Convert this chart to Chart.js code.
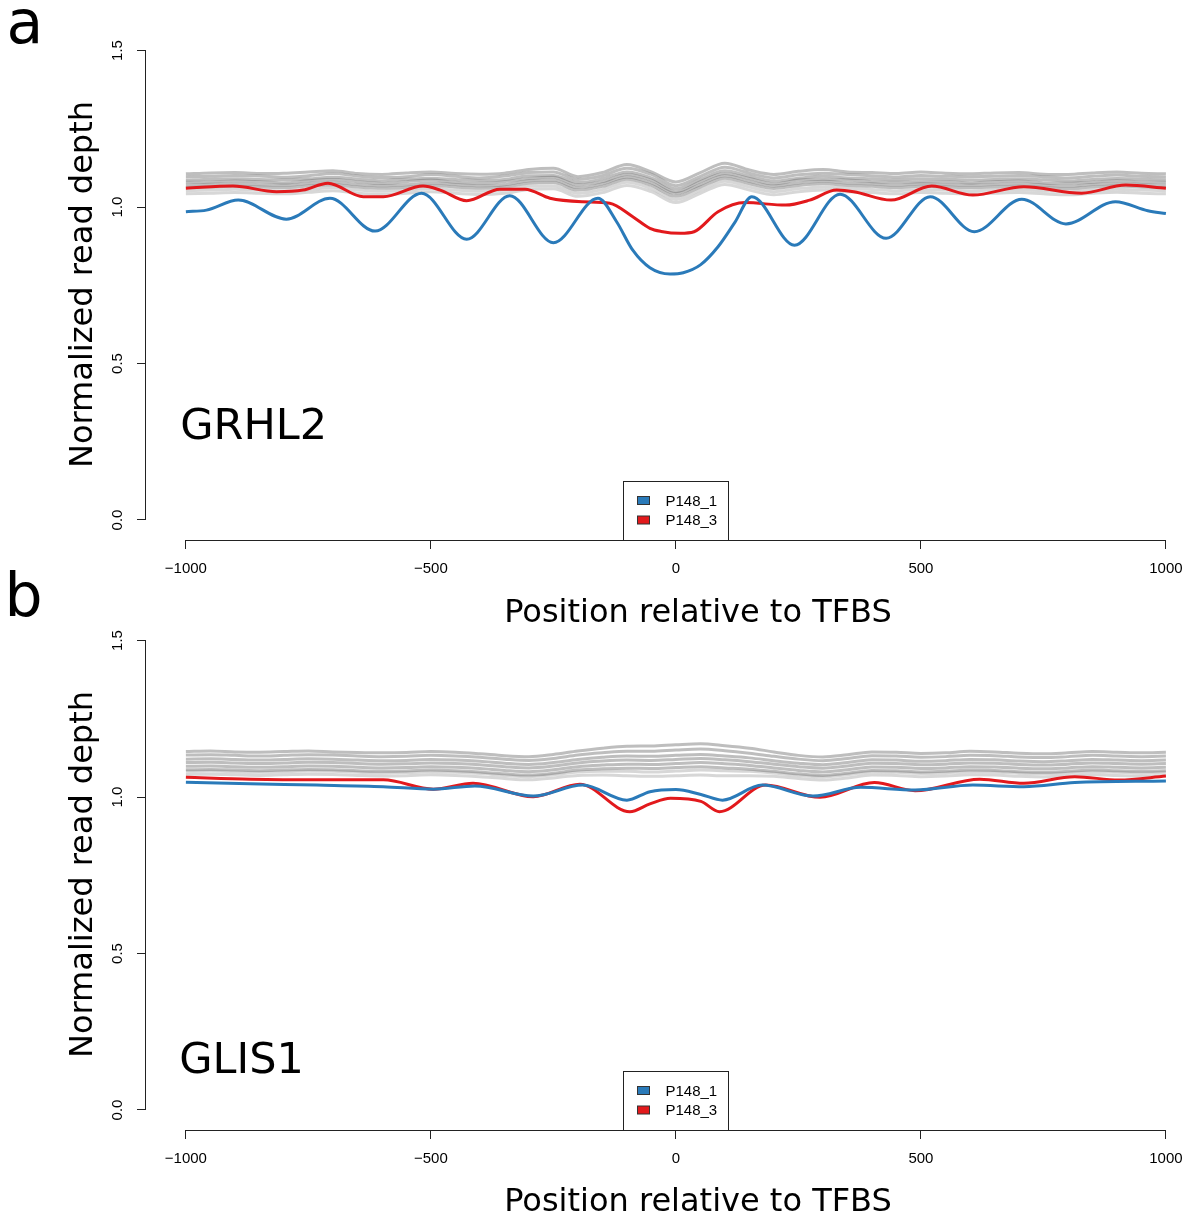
<!DOCTYPE html>
<html>
<head>
<meta charset="utf-8">
<script src="https://cdn.jsdelivr.net/npm/chart.js@4.4.0/dist/chart.umd.min.js"></script>
<style>
  html, body { margin: 0; padding: 0; background: #fff; overflow: hidden; width: 1190px; height: 1222px; }
  canvas { position: absolute; left: 0; }
  #panelA { top: 0; width: 1250px; height: 640px; }
  #panelB { top: 560px; width: 1250px; height: 662px; }
</style>
</head>
<body>
<canvas id="panelA" width="1250" height="640"></canvas>
<canvas id="panelB" width="1250" height="662"></canvas>
<script>
// axis ticks
const xTicks = [-1000, -500, 0, 500, 1000];
const xTickLabels = ['\u22121000', '\u2212500', '0', '500', '1000'];
const yTicks = [0, 0.5, 1, 1.5];
const yTickLabels = ['0.0', '0.5', '1.0', '1.5'];
const seriesNames = ['P148_1', 'P148_3'];

// ---- panel a (GRHL2) ----
const blueAX = [-1000, -958, -893, -795, -706, -614, -519, -427, -339, -250, -159, -121, -88, -53, -12, 15, 50, 86, 120, 155, 242, 335, 429, 519, 609, 706, 796, 897, 963, 1000];
const blueAY = [0.985, 0.990, 1.022, 0.961, 1.028, 0.923, 1.044, 0.897, 1.036, 0.886, 1.028, 0.953, 0.862, 0.806, 0.786, 0.790, 0.815, 0.873, 0.950, 1.033, 0.878, 1.041, 0.900, 1.033, 0.921, 1.025, 0.946, 1.017, 0.988, 0.979];

const redAX = [-1000, -904, -815, -761, -710, -638, -597, -516, -481, -427, -359, -308, -257, -190, -135, -88, -53, -30, 9, 37, 86, 141, 224, 273, 328, 363, 439, 522, 606, 710, 828, 918, 1000];
const redAY = [1.060, 1.067, 1.049, 1.054, 1.076, 1.033, 1.033, 1.067, 1.054, 1.020, 1.057, 1.057, 1.028, 1.017, 1.012, 0.969, 0.932, 0.922, 0.916, 0.921, 0.985, 1.014, 1.006, 1.022, 1.054, 1.049, 1.022, 1.067, 1.038, 1.065, 1.044, 1.070, 1.060];

// background samples, every 50 bp
const grayX = [-1000, -950, -900, -850, -800, -750, -700, -650, -600, -550,
  -500, -450, -400, -350, -300, -250, -200, -150, -100, -50,
  0, 50, 100, 150, 200, 250, 300, 350, 400, 450,
  500, 550, 600, 650, 700, 750, 800, 850, 900, 950, 1000];

const grayA1 = [1.106,1.109,1.110,1.107,1.108,1.112,1.116,1.107,1.104,1.109,
  1.112,1.107,1.105,1.108,1.120,1.124,1.097,1.110,1.136,1.112,
  1.080,1.110,1.140,1.118,1.104,1.114,1.120,1.112,1.110,1.107,
  1.112,1.108,1.106,1.109,1.110,1.105,1.104,1.109,1.112,1.108,1.106];
const grayA2 = [1.097,1.098,1.101,1.099,1.095,1.100,1.107,1.099,1.094,1.097,
  1.104,1.098,1.093,1.099,1.110,1.112,1.088,1.100,1.124,1.104,
  1.068,1.098,1.127,1.108,1.093,1.103,1.108,1.104,1.100,1.096,
  1.101,1.098,1.097,1.098,1.101,1.097,1.093,1.098,1.102,1.098,1.096];
const grayA3 = [1.086,1.089,1.090,1.088,1.087,1.090,1.095,1.089,1.084,1.089,
  1.092,1.088,1.085,1.088,1.100,1.101,1.078,1.090,1.112,1.093,
  1.058,1.088,1.116,1.098,1.083,1.092,1.098,1.093,1.090,1.087,
  1.090,1.089,1.086,1.088,1.090,1.087,1.083,1.088,1.091,1.089,1.086];
const grayA4 = [1.079,1.080,1.083,1.081,1.077,1.084,1.088,1.081,1.075,1.081,
  1.086,1.079,1.076,1.081,1.091,1.095,1.071,1.081,1.104,1.086,
  1.049,1.081,1.107,1.091,1.074,1.086,1.089,1.086,1.081,1.079,
  1.081,1.081,1.077,1.081,1.083,1.077,1.076,1.079,1.084,1.080,1.079];
const grayA5 = [1.070,1.073,1.074,1.071,1.070,1.075,1.079,1.072,1.068,1.071,
  1.077,1.072,1.068,1.071,1.084,1.086,1.062,1.074,1.096,1.077,
  1.043,1.072,1.100,1.082,1.067,1.077,1.082,1.077,1.074,1.070,
  1.074,1.072,1.070,1.072,1.074,1.070,1.067,1.072,1.075,1.072,1.070];
const grayA6 = [1.062,1.064,1.066,1.064,1.062,1.067,1.071,1.064,1.060,1.063,
  1.069,1.064,1.060,1.064,1.076,1.078,1.054,1.066,1.089,1.069,
  1.034,1.064,1.092,1.074,1.059,1.069,1.074,1.069,1.066,1.062,
  1.066,1.064,1.062,1.064,1.066,1.062,1.059,1.064,1.067,1.064,1.062];
const grayA7 = [1.052,1.054,1.057,1.054,1.052,1.056,1.062,1.054,1.050,1.054,
  1.059,1.054,1.050,1.054,1.066,1.068,1.044,1.056,1.079,1.059,
  1.024,1.054,1.082,1.064,1.049,1.059,1.064,1.059,1.056,1.052,
  1.056,1.054,1.052,1.054,1.056,1.052,1.049,1.054,1.057,1.054,1.052];
const grayA8 = [1.042,1.044,1.046,1.044,1.042,1.047,1.052,1.044,1.040,1.044,
  1.049,1.044,1.040,1.044,1.056,1.058,1.034,1.046,1.069,1.049,
  1.014,1.044,1.072,1.054,1.039,1.049,1.054,1.049,1.046,1.042,
  1.046,1.044,1.042,1.044,1.046,1.042,1.039,1.044,1.047,1.044,1.042];

// ---- panel b (GLIS1) ----
const blueBX = [-1000, -869, -733, -597, -495, -410, -291, -190, -100, -53, 0, 51, 95, 176, 280, 377, 488, 606, 710, 814, 1000];
const blueBY = [1.047, 1.042, 1.038, 1.033, 1.025, 1.035, 1.003, 1.038, 0.990, 1.017, 1.024, 1.008, 0.990, 1.038, 1.003, 1.031, 1.022, 1.038, 1.033, 1.046, 1.051];

const redBX = [-1000, -869, -733, -597, -495, -414, -291, -196, -94, -53, -11, 51, 89, 183, 294, 405, 488, 620, 710, 814, 904, 1000];
const redBY = [1.063, 1.057, 1.055, 1.055, 1.025, 1.044, 1.001, 1.041, 0.953, 0.978, 0.996, 0.986, 0.953, 1.038, 0.999, 1.046, 1.020, 1.057, 1.044, 1.065, 1.054, 1.067];

const grayB1 = [1.145,1.147,1.144,1.143,1.145,1.147,1.144,1.142,1.141,1.142,
  1.145,1.143,1.138,1.132,1.129,1.136,1.147,1.156,1.162,1.163,
  1.167,1.170,1.164,1.156,1.144,1.133,1.128,1.135,1.144,1.143,
  1.139,1.141,1.146,1.144,1.140,1.138,1.141,1.145,1.143,1.141,1.143];
const grayB2 = [1.134,1.135,1.133,1.131,1.133,1.135,1.134,1.131,1.129,1.130,
  1.133,1.131,1.127,1.121,1.117,1.123,1.134,1.141,1.146,1.146,
  1.150,1.153,1.148,1.140,1.130,1.121,1.116,1.123,1.132,1.131,
  1.127,1.129,1.133,1.132,1.128,1.126,1.129,1.133,1.131,1.129,1.131];
const grayB3 = [1.121,1.122,1.120,1.118,1.120,1.122,1.121,1.118,1.116,1.117,
  1.120,1.118,1.114,1.108,1.104,1.110,1.120,1.127,1.131,1.130,
  1.133,1.136,1.131,1.125,1.116,1.108,1.103,1.110,1.119,1.118,
  1.114,1.116,1.120,1.119,1.115,1.113,1.116,1.120,1.118,1.116,1.118];
const grayB4 = [1.110,1.111,1.109,1.107,1.109,1.111,1.110,1.107,1.105,1.106,
  1.109,1.107,1.103,1.097,1.093,1.099,1.109,1.115,1.118,1.117,
  1.120,1.123,1.119,1.113,1.105,1.097,1.092,1.099,1.108,1.107,
  1.103,1.105,1.109,1.108,1.104,1.102,1.105,1.109,1.107,1.105,1.107];
const grayB5 = [1.098,1.099,1.097,1.095,1.097,1.099,1.098,1.095,1.093,1.094,
  1.097,1.095,1.091,1.085,1.081,1.087,1.097,1.102,1.105,1.104,
  1.107,1.110,1.106,1.101,1.093,1.085,1.080,1.087,1.096,1.095,
  1.091,1.093,1.097,1.096,1.092,1.090,1.093,1.097,1.095,1.093,1.095];
const grayB6 = [1.087,1.088,1.086,1.084,1.086,1.088,1.087,1.084,1.082,1.083,
  1.086,1.084,1.080,1.074,1.070,1.076,1.086,1.090,1.092,1.091,
  1.094,1.097,1.093,1.089,1.082,1.074,1.069,1.076,1.085,1.084,
  1.080,1.082,1.086,1.085,1.081,1.079,1.082,1.086,1.084,1.082,1.084];
const grayB7 = [1.082,1.083,1.081,1.079,1.081,1.083,1.082,1.079,1.077,1.078,
  1.081,1.079,1.075,1.069,1.065,1.071,1.080,1.082,1.082,1.080,
  1.083,1.086,1.084,1.082,1.077,1.069,1.064,1.071,1.080,1.079,
  1.075,1.077,1.081,1.080,1.076,1.074,1.077,1.081,1.079,1.077,1.079];
const grayB8 = [1.072,1.073,1.071,1.069,1.071,1.073,1.072,1.069,1.067,1.068,
  1.071,1.069,1.065,1.059,1.055,1.061,1.069,1.070,1.068,1.066,
  1.068,1.070,1.068,1.068,1.066,1.059,1.054,1.061,1.070,1.069,
  1.065,1.067,1.071,1.070,1.066,1.064,1.067,1.071,1.069,1.067,1.069];

const BLUE = '#2a7ab9';
const RED = '#e2191c';
const sans = '"DejaVu Sans", sans-serif';
const arial = '"Liberation Sans", Arial, sans-serif';

const pts = (xs, ys) => xs.map((x, i) => ({ x, y: ys[i] }));

// R-like axes, labels and legend drawn on top of the chart
const rStyle = {
  id: 'rStyle',
  afterDraw(chart, args, o) {
    const { ctx, chartArea: ca, scales: { x, y } } = chart;
    ctx.save();
    ctx.strokeStyle = '#222';
    ctx.lineWidth = 1;

    // axis lines only span the tick range
    const xb = Math.round(ca.bottom) + 0.5;
    ctx.beginPath();
    ctx.moveTo(x.getPixelForValue(xTicks[0]), xb);
    ctx.lineTo(x.getPixelForValue(xTicks[xTicks.length - 1]), xb);
    ctx.stroke();
    const yl = Math.round(ca.left) - 0.5;
    ctx.beginPath();
    ctx.moveTo(yl, y.getPixelForValue(yTicks[0]));
    ctx.lineTo(yl, y.getPixelForValue(yTicks[yTicks.length - 1]));
    ctx.stroke();

    // rotated y tick labels
    ctx.fillStyle = '#000';
    ctx.font = '15px ' + arial;
    yTicks.forEach((v, i) => {
      ctx.save();
      ctx.translate(117.5, y.getPixelForValue(v));
      ctx.rotate(-Math.PI / 2);
      ctx.textAlign = 'center';
      ctx.textBaseline = 'middle';
      ctx.fillText(yTickLabels[i], 0, 0);
      ctx.restore();
    });

    // legend box at the bottom centre
    const bx = Math.round(x.getPixelForValue(0) - 53) + 0.5;
    const bh = 59;
    const by = Math.round(ca.bottom - bh) + 0.5;
    ctx.fillStyle = '#fff';
    ctx.fillRect(bx, by, 105, bh);
    ctx.strokeRect(bx, by, 105, bh);
    [BLUE, RED].forEach((c, i) => {
      const ry = ca.bottom - 39.5 + i * 19.5;
      ctx.fillStyle = c;
      ctx.fillRect(bx + 14, ry - 4, 12, 8);
      ctx.strokeStyle = '#333';
      ctx.strokeRect(bx + 14, ry - 4, 12, 8);
      ctx.fillStyle = '#000';
      ctx.font = '15px ' + arial;
      ctx.textAlign = 'left';
      ctx.textBaseline = 'middle';
      ctx.fillText(seriesNames[i], bx + 42, ry + 1);
    });

    // panel letter and factor name
    ctx.textAlign = 'left';
    ctx.textBaseline = 'alphabetic';
    ctx.fillStyle = '#000';
    ctx.font = '60px ' + sans;
    ctx.fillText(o.letter, o.letterX, o.letterY);
    ctx.font = '43px ' + sans;
    ctx.fillText(o.name, o.nameX, o.nameY);
    ctx.restore();
  }
};

function makePanel(id, blue, red, grays, p) {
  const datasets = [];
  grays.forEach((g, i) => {
    datasets.push({
      data: pts(grayX, g),
      borderColor: i < 6 ? 'rgba(110,110,110,0.45)' : 'rgba(150,150,150,0.38)',
      borderWidth: 3,
      pointRadius: 0,
      cubicInterpolationMode: 'monotone',
      order: 3
    });
  });
  datasets.push({ label: seriesNames[1], data: red, borderColor: RED, borderWidth: 3, pointRadius: 0, cubicInterpolationMode: 'monotone', order: 2 });
  datasets.push({ label: seriesNames[0], data: blue, borderColor: BLUE, borderWidth: 3, pointRadius: 0, cubicInterpolationMode: 'monotone', order: 1 });

  return new Chart(document.getElementById(id), {
    type: 'line',
    data: { datasets },
    options: {
      responsive: false,
      animation: false,
      devicePixelRatio: 1,
      layout: { padding: { top: p.top, left: 0, right: 0, bottom: 0 } },
      plugins: {
        legend: { display: false },
        tooltip: { enabled: false },
        rStyle: p.labels
      },
      scales: {
        x: {
          type: 'linear',
          min: -1081.4,
          max: 1171.6,
          afterBuildTicks: s => { s.ticks = xTicks.map(v => ({ value: v })); },
          afterFit: s => { s.height = p.xHeight; },
          border: { display: false },
          grid: { drawOnChartArea: false, drawTicks: true, tickLength: 9, color: '#222' },
          ticks: {
            autoSkip: false, maxRotation: 0, padding: 11, color: '#000',
            font: { family: arial, size: 15 },
            callback: (v, i) => xTickLabels[i]
          },
          title: {
            display: true, text: 'Position relative to TFBS', color: '#000',
            font: { family: sans, size: 32 },
            padding: { top: 0, bottom: p.titlePad }
          }
        },
        y: {
          min: -0.0639,
          max: 1.5687,
          afterBuildTicks: s => { s.ticks = yTicks.map(v => ({ value: v })); },
          afterFit: s => { s.width = 146; },
          border: { display: false },
          grid: { drawOnChartArea: false, drawTicks: true, tickLength: 9, color: '#222' },
          ticks: { display: false },
          title: {
            display: true, text: 'Normalized read depth', color: '#000',
            font: { family: sans, size: 32 },
            padding: { top: 64, bottom: 0 }
          }
        }
      }
    },
    plugins: [rStyle]
  });
}

makePanel('panelA', pts(blueAX, blueAY), pts(redAX, redAY),
  [grayA1, grayA2, grayA3, grayA4, grayA5, grayA6, grayA7, grayA8],
  { top: 29, xHeight: 100, titlePad: 7,
    labels: { letter: 'a', letterX: 6.5, letterY: 43.3, name: 'GRHL2', nameX: 180.3, nameY: 439.3 } });

makePanel('panelB', pts(blueBX, blueBY), pts(redBX, redBY),
  [grayB1, grayB2, grayB3, grayB4, grayB5, grayB6, grayB7, grayB8],
  { top: 59, xHeight: 92, titlePad: 0,
    labels: { letter: 'b', letterX: 4.5, letterY: 56, name: 'GLIS1', nameX: 179.3, nameY: 513.3 } });
</script>
</body>
</html>
